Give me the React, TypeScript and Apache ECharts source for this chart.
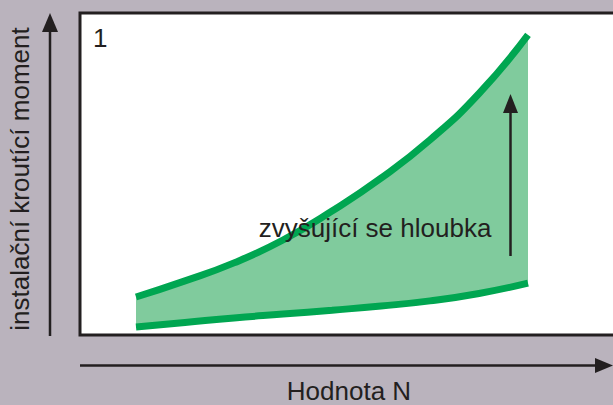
import React, { useEffect, useRef } from "react";
import * as echarts from "echarts";

// Evenly spaced N positions (arbitrary steps) with moments
const nCategories = ["1", "2", "3", "4", "5", "6", "7", "8", "9"];
const upperMoment = [11.8, 16.8, 22.4, 29.5, 38.5, 48.7, 60.6, 75.0, 93.2];
const lowerMoment = [2.5, 3.9, 5.3, 6.5, 7.7, 9.0, 10.6, 12.9, 16.1];

const xTitle = "Hodnota N";
const yTitle = "instalační kroutící moment";
const arrowLabel = "zvyšující se hloubka";
const panelLabel = "1";

const GREEN = "#00a651";
const FILL = "#80cb9d";
const DARK = "#231f20";
const BG = "#bab3bd";
const FONT = "'Liberation Sans', Arial, Helvetica, sans-serif";

export default function App() {
  const ref = useRef<HTMLDivElement>(null);
  useEffect(() => {
    if (!ref.current) return;
    const chart = echarts.init(ref.current, undefined, { renderer: "svg" });
    const band = upperMoment.map((u, i) => +(u - lowerMoment[i]).toFixed(2));
    chart.setOption({
      animation: false,
      backgroundColor: BG,
      grid: {
        left: 136,
        right: 85,
        top: 13,
        height: 322,
        show: false,
      },
      xAxis: {
        type: "category",
        data: nCategories,
        boundaryGap: false,
        show: false,
      },
      yAxis: { type: "value", min: 0, max: 100, show: false },
      series: [
        {
          type: "line",
          stack: "band",
          data: lowerMoment,
          smooth: true,
          symbol: "none",
          lineStyle: { width: 7, color: GREEN, cap: "butt" },
          z: 4,
        },
        {
          type: "line",
          stack: "band",
          data: band,
          smooth: true,
          symbol: "none",
          lineStyle: { width: 7, color: GREEN, cap: "butt" },
          areaStyle: { color: FILL, opacity: 1 },
          z: 3,
        },
      ],
      graphic: [
        {
          type: "rect",
          z: 0,
          shape: { x: 80, y: 13, width: 560, height: 322 },
          style: { fill: "#ffffff" },
        },
        {
          type: "rect",
          z: 100,
          shape: { x: 80, y: 13, width: 560, height: 322 },
          style: { fill: "none", stroke: DARK, lineWidth: 3 },
        },
        // y axis arrow
        {
          type: "line",
          z: 100,
          shape: { x1: 50, y1: 336, x2: 50, y2: 28 },
          style: { stroke: DARK, lineWidth: 2.5 },
        },
        {
          type: "polygon",
          z: 100,
          shape: { points: [[50, 13], [58, 32], [42, 32]] },
          style: { fill: DARK },
        },
        // x axis arrow
        {
          type: "line",
          z: 100,
          shape: { x1: 80, y1: 365.5, x2: 600, y2: 365.5 },
          style: { stroke: DARK, lineWidth: 2.5 },
        },
        {
          type: "polygon",
          z: 100,
          shape: { points: [[613, 365.5], [595, 358], [595, 373]] },
          style: { fill: DARK },
        },
        // depth arrow
        {
          type: "line",
          z: 100,
          shape: { x1: 510.5, y1: 256, x2: 510.5, y2: 108 },
          style: { stroke: DARK, lineWidth: 2.5 },
        },
        {
          type: "polygon",
          z: 100,
          shape: { points: [[510.5, 94], [518, 113], [503, 113]] },
          style: { fill: DARK },
        },
        {
          type: "text",
          z: 100,
          x: 375,
          y: 228,
          style: {
            text: arrowLabel,
            font: `26px ${FONT}`,
            fill: DARK,
            align: "center",
            verticalAlign: "middle",
          },
        },
        {
          type: "text",
          z: 100,
          x: 93,
          y: 38,
          style: {
            text: panelLabel,
            font: `26px ${FONT}`,
            fill: DARK,
            align: "left",
            verticalAlign: "middle",
          },
        },
        {
          type: "text",
          z: 100,
          x: 349,
          y: 391,
          style: {
            text: xTitle,
            font: `26px ${FONT}`,
            fill: DARK,
            align: "center",
            verticalAlign: "middle",
          },
        },
        {
          type: "text",
          z: 100,
          x: 20,
          y: 179,
          rotation: Math.PI / 2,
          style: {
            text: yTitle,
            font: `26px ${FONT}`,
            fill: DARK,
            align: "center",
            verticalAlign: "middle",
          },
        },
      ],
    });
    return () => chart.dispose();
  }, []);
  return (
    <div
      ref={ref}
      style={{ position: "fixed", left: 0, top: 0, width: 613, height: 405 }}
    />
  );
}
